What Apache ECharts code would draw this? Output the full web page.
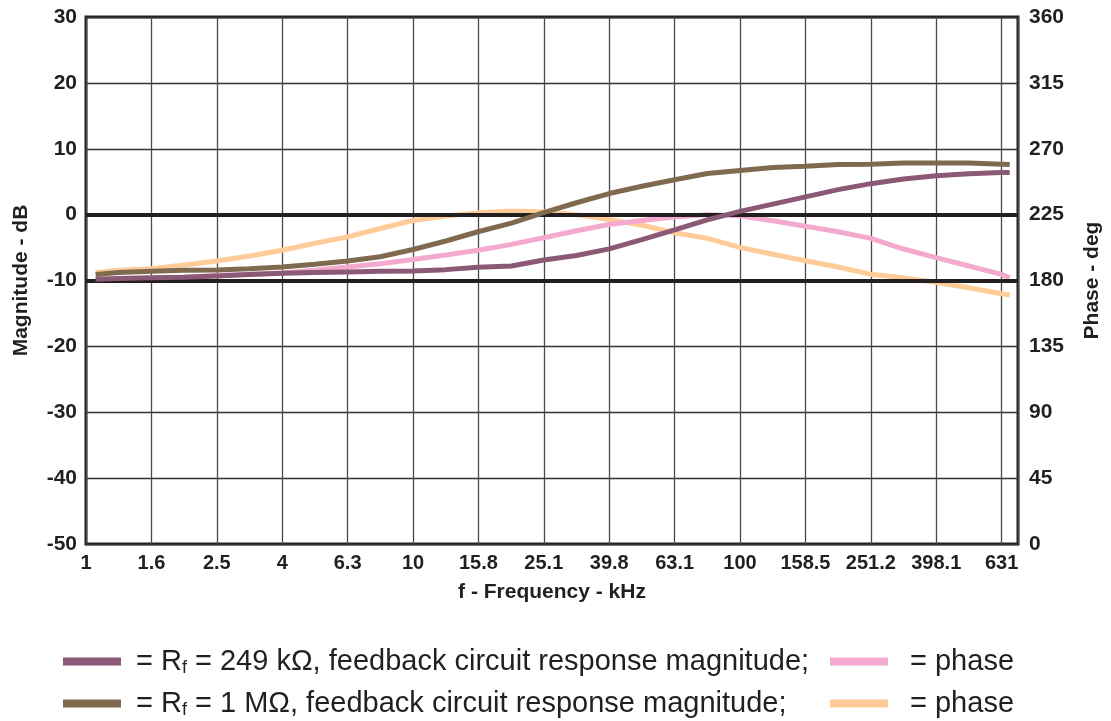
<!DOCTYPE html>
<html>
<head>
<meta charset="utf-8">
<script src="https://cdn.jsdelivr.net/npm/echarts@6/dist/echarts.min.js"></script>
<style>
  html, body { margin: 0; padding: 0; background: #fff; }
  #chart { width: 1111px; height: 721px; }
</style>
</head>
<body>
<div id="chart"></div>
<script>
// Frequencies (kHz) at which the curves were read
const freqKHz = [1.07, 1.26, 1.58, 2.0, 2.51, 3.16, 3.98, 5.01, 6.31, 7.94, 10, 12.6, 15.8, 20.0, 25.1, 31.6, 39.8, 50.1, 63.1, 79.4, 100, 126, 158.5, 199.5, 251.2, 316.2, 398.1, 501.2, 631, 668];
// Tick labels of the frequency axis (one per fifth of a decade)
const freqTickLabels = ['1', '1.6', '2.5', '4', '6.3', '10', '15.8', '25.1', '39.8', '63.1', '100', '158.5', '251.2', '398.1', '631'];
// Rf = 249 kOhm magnitude (dB)
const mag249k = [-9.8, -9.7, -9.6, -9.5, -9.3, -9.1, -8.9, -8.8, -8.7, -8.6, -8.55, -8.35, -8.0, -7.8, -6.9, -6.2, -5.2, -3.8, -2.3, -0.8, 0.5, 1.6, 2.7, 3.8, 4.7, 5.4, 5.9, 6.2, 6.4, 6.4];
// Rf = 1 MOhm magnitude (dB)
const mag1M = [-9.1, -8.8, -8.6, -8.45, -8.4, -8.2, -7.95, -7.55, -7.05, -6.4, -5.3, -4.0, -2.6, -1.3, 0.3, 1.8, 3.2, 4.3, 5.3, 6.25, 6.7, 7.15, 7.35, 7.6, 7.65, 7.85, 7.85, 7.85, 7.65, 7.6];
// Rf = 249 kOhm phase (deg)
const phase249k = [180.1, 180.8, 181.7, 182.4, 183.5, 184.2, 185.1, 187, 189.2, 191.5, 194.4, 197.4, 200.7, 204.7, 209.2, 214, 218.3, 221, 223.3, 225, 224.2, 220.8, 217, 213.3, 208.8, 201.5, 195.6, 189.9, 184.2, 181.9];
// Rf = 1 MOhm phase (deg)
const phase1M = [185.4, 187, 188, 190.6, 193.3, 196.7, 200.7, 205.4, 209.8, 215.5, 221, 224, 226.2, 227.5, 227, 225, 221.7, 217.8, 212.6, 208.8, 202.6, 197.9, 193.5, 189.2, 184.2, 181.9, 178.6, 175, 171, 170];

const seriesNames = ['mag249k', 'mag1M', 'phase249k', 'phase1M'];
const legendTexts = [
  '= R{sub|f} = 249 kΩ, feedback circuit response magnitude;',
  '= R{sub|f} = 1 MΩ, feedback circuit response magnitude;',
  '= phase',
  '= phase'
];
const colors = ['#8b5876', '#7f6a4f', '#f4aacf', '#ffcc99'];

// x axis works in fifths of a decade (log scale of frequency)
const toAxis = f => Math.log10(f) * 5;
const pairs = arr => arr.map((v, i) => [toAxis(freqKHz[i]), v]);

const FONT = "'Liberation Sans', Arial, Helvetica, sans-serif";
const INK = '#231f20';

const chart = echarts.init(document.getElementById('chart'), null, { renderer: 'canvas' });

function legendCfg(idx, left, top) {
  return {
    data: [seriesNames[idx]],
    left: left, top: top, padding: 0,
    icon: 'rect', itemWidth: 58, itemHeight: 8,
    selectedMode: false,
    formatter: () => legendTexts[idx],
    textStyle: {
      fontFamily: FONT, fontSize: 29, color: INK,
      padding: [0, 0, 0, idx < 2 ? 10 : 17],
      rich: {
        sub: { fontFamily: FONT, fontSize: 18, color: INK, padding: [14, 0, 0, 0] }
      }
    }
  };
}

const nameStyle = { fontFamily: FONT, fontSize: 21, fontWeight: 'bold', color: INK };

const option = {
  animation: false,
  backgroundColor: '#fff',
  grid: {
    left: 86, top: 17, width: 935, height: 527,
    show: true, borderColor: INK, borderWidth: 3, backgroundColor: 'transparent'
  },
  legend: [
    legendCfg(0, 63, 647),
    legendCfg(1, 63, 689),
    legendCfg(2, 830, 647),
    legendCfg(3, 830, 689)
  ],
  xAxis: {
    type: 'value', min: 0, max: 14.25, interval: 1,
    name: 'f - Frequency - kHz', nameLocation: 'middle', nameGap: 38,
    nameTextStyle: nameStyle,
    axisLine: { show: false }, axisTick: { show: false },
    axisLabel: {
      margin: 9, fontFamily: FONT, fontSize: 20, fontWeight: 'bold', color: INK,
      showMaxLabel: false,
      formatter: v => {
        const r = Math.round(v);
        return Math.abs(v - r) < 1e-6 && freqTickLabels[r] !== undefined ? freqTickLabels[r] : '';
      }
    },
    splitLine: { show: true, lineStyle: { color: '#4a4a4a', width: 1.3 } }
  },
  yAxis: [
    {
      type: 'value', min: -50, max: 30, interval: 10, position: 'left',
      name: 'Magnitude - dB', nameLocation: 'middle', nameGap: 54, nameRotate: 90,
      nameTextStyle: nameStyle,
      axisLine: { show: false }, axisTick: { show: false },
      axisLabel: { margin: 9, fontFamily: FONT, fontSize: 21, fontWeight: 'bold', color: INK },
      splitLine: { show: true, lineStyle: { color: '#333', width: 1.3 } }
    },
    {
      type: 'value', min: 0, max: 360, interval: 45, position: 'right',
      name: 'Phase - deg', nameLocation: 'middle', nameGap: 64, nameRotate: 90,
      nameTextStyle: nameStyle,
      axisLine: { show: false }, axisTick: { show: false },
      axisLabel: { margin: 11, fontFamily: FONT, fontSize: 21, fontWeight: 'bold', color: INK },
      splitLine: { show: false }
    }
  ],
  series: [
    {
      name: 'refLines', type: 'line', data: [], z: 1, silent: true,
      markLine: {
        silent: true, symbol: 'none', animation: false,
        label: { show: false },
        lineStyle: { color: INK, width: 4, type: 'solid' },
        data: [{ yAxis: 0 }, { yAxis: -10 }]
      }
    },
    { name: seriesNames[3], type: 'line', yAxisIndex: 1, data: pairs(phase1M), showSymbol: false, z: 3,
      lineStyle: { color: colors[3], width: 5 }, itemStyle: { color: colors[3] } },
    { name: seriesNames[2], type: 'line', yAxisIndex: 1, data: pairs(phase249k), showSymbol: false, z: 4,
      lineStyle: { color: colors[2], width: 5 }, itemStyle: { color: colors[2] } },
    { name: seriesNames[0], type: 'line', yAxisIndex: 0, data: pairs(mag249k), showSymbol: false, z: 5,
      lineStyle: { color: colors[0], width: 5 }, itemStyle: { color: colors[0] } },
    { name: seriesNames[1], type: 'line', yAxisIndex: 0, data: pairs(mag1M), showSymbol: false, z: 6,
      lineStyle: { color: colors[1], width: 5 }, itemStyle: { color: colors[1] } }
  ]
};

chart.setOption(option);
</script>
</body>
</html>
